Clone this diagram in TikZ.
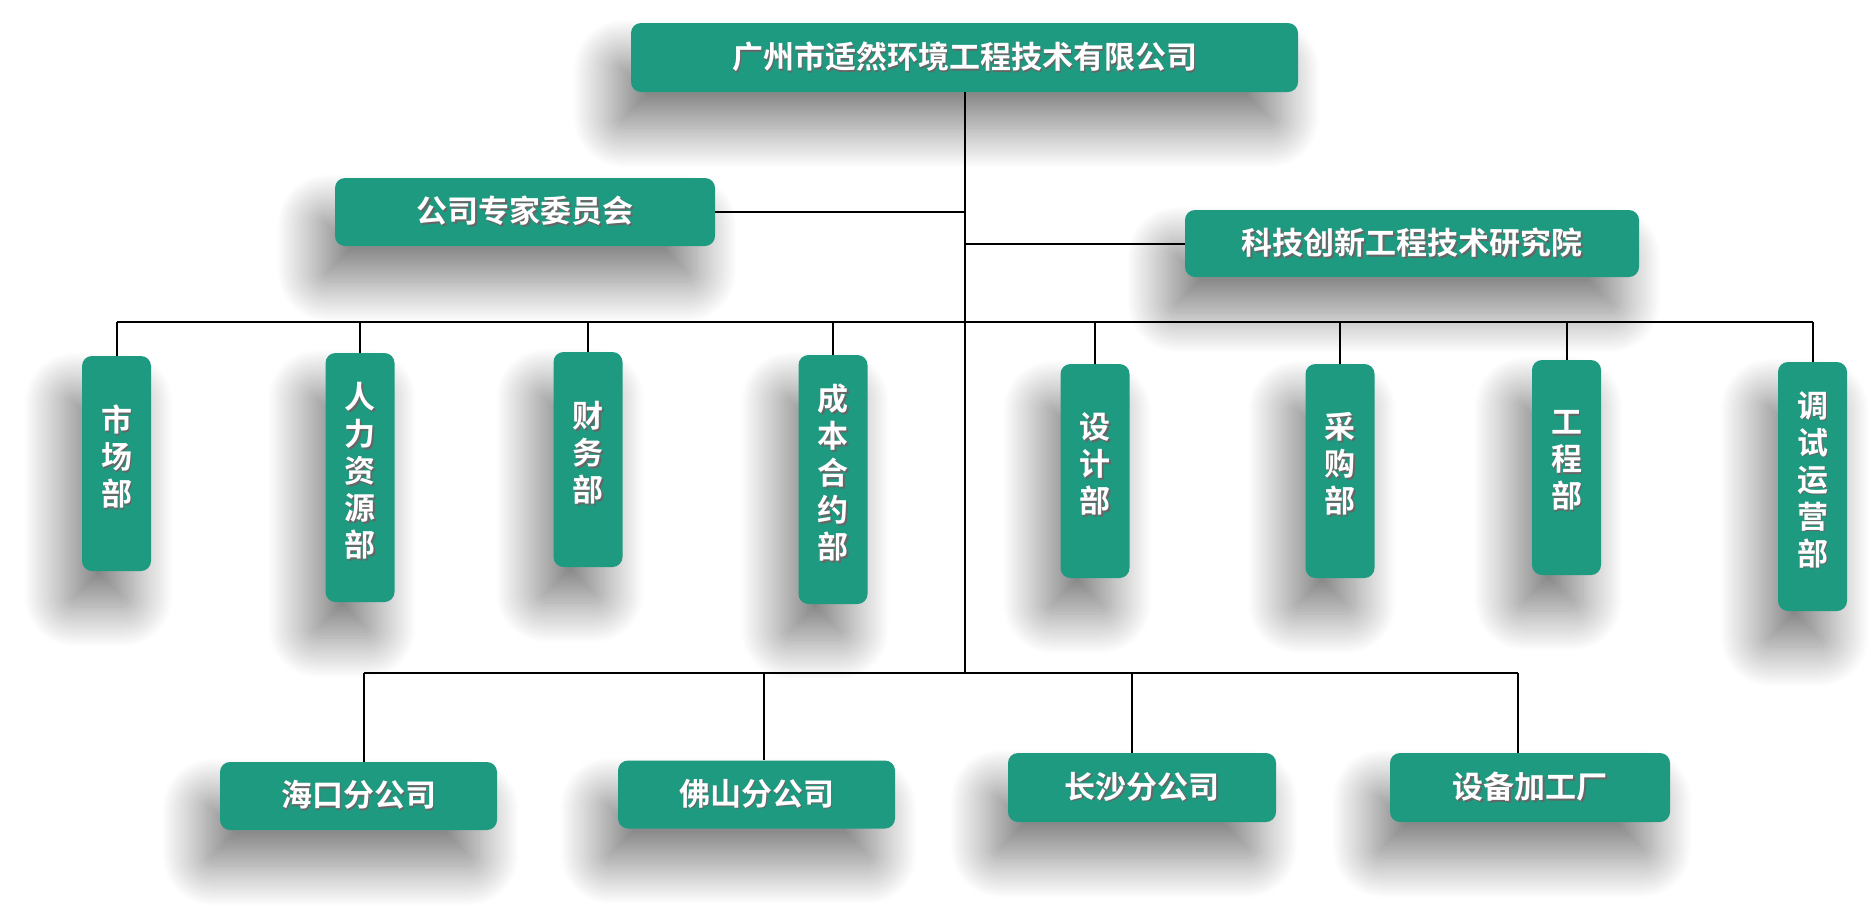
\documentclass[tikz,border=0pt]{standalone}
\usepackage{fontspec}
\newfontfamily\cjk{Noto Sans CJK SC}[BoldFont={* Bold}]
\usetikzlibrary{shadows.blur}
\definecolor{teal1}{HTML}{1D9A80}
\newcommand\shd[1]{\leavevmode\rlap{\kern1.7pt\raisebox{-1.7pt}{\textcolor{black!60}{#1}}}#1}
\newcommand\vt[2]{\parbox[c][#1pt][c]{69pt}{\centering\vspace*{-12pt}#2\par}}
\begin{document}
\begin{tikzpicture}[x=1pt,y=-1pt,
  box/.style={fill=teal1, rounded corners=10pt, inner sep=0pt, text=white,
     font=\cjk\bfseries\fontsize{31}{37}\selectfont, align=center,
     blur shadow={shadow xshift=-18pt, shadow yshift=-36pt, shadow blur radius=40pt,
                  shadow blur steps=40, shadow opacity=50}},
  hbox/.style={box, minimum height=68pt},
  vbox/.style={box, minimum width=69pt},
  conn/.style={line width=2pt, draw=black}]
\useasboundingbox (0,0) rectangle (1871,913);
% top level
\node[hbox, minimum width=667pt, minimum height=69pt] (top) at (964.5,57.5) {\shd{广州市适然环境工程技术有限公司}};
\node[hbox, minimum width=380pt] (com) at (525,212) {\shd{公司专家委员会}};
\node[hbox, minimum width=454pt, minimum height=67pt] (res) at (1412,243.5) {\shd{科技创新工程技术研究院}};
% departments
\node[vbox] (d1) at (116.5,463.5) {\vt{215}{\shd{市}\\\shd{场}\\\shd{部}}};
\node[vbox] (d2) at (360,477.5) {\vt{249}{\shd{人}\\\shd{力}\\\shd{资}\\\shd{源}\\\shd{部}}};
\node[vbox] (d3) at (588,459.5) {\vt{215}{\shd{财}\\\shd{务}\\\shd{部}}};
\node[vbox] (d4) at (833,479.5) {\vt{249}{\shd{成}\\\shd{本}\\\shd{合}\\\shd{约}\\\shd{部}}};
\node[vbox] (d5) at (1095,471) {\vt{214}{\shd{设}\\\shd{计}\\\shd{部}}};
\node[vbox] (d6) at (1340,471) {\vt{214}{\shd{采}\\\shd{购}\\\shd{部}}};
\node[vbox] (d7) at (1566.5,467.5) {\vt{215}{\shd{工}\\\shd{程}\\\shd{部}}};
\node[vbox] (d8) at (1812.5,486.5) {\vt{249}{\shd{调}\\\shd{试}\\\shd{运}\\\shd{营}\\\shd{部}}};
% branches
\node[hbox, minimum width=277pt] (b1) at (358.5,796) {\shd{海口分公司}};
\node[hbox, minimum width=277pt] (b2) at (756.5,794.5) {\shd{佛山分公司}};
\node[hbox, minimum width=268pt, minimum height=69pt] (b3) at (1142,787.5) {\shd{长沙分公司}};
\node[hbox, minimum width=280pt, minimum height=69pt] (b4) at (1530,787.5) {\shd{设备加工厂}};
% connectors
\coordinate (bus) at (964.5,322);
\coordinate (bbus) at (964.5,673);
\coordinate (x1) at (364,673);
\coordinate (x2) at (764,673);
\coordinate (x3) at (1132,673);
\coordinate (x4) at (1518,673);
\draw[conn] (top.south) -- (bbus);
\draw[conn] (com.east) -- (com.east -| top.south);
\draw[conn] (res.west) -- (res.west -| top.south);
\draw[conn] (d1.north |- bus) -- (d8.north |- bus);
\foreach \d in {d1,d2,d3,d4,d5,d6,d7,d8} \draw[conn] (\d.north) -- (\d.north |- bus);
\draw[conn] (x1) -- (x4);
\draw[conn] (x1) -- (x1 |- b1.north);
\draw[conn] (x2) -- (x2 |- b2.north);
\draw[conn] (x3) -- (x3 |- b3.north);
\draw[conn] (x4) -- (x4 |- b4.north);
\end{tikzpicture}
\end{document}
